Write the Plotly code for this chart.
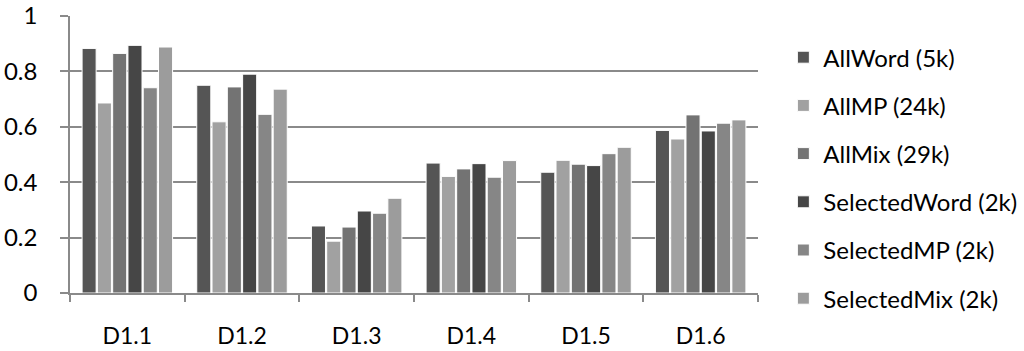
import plotly.graph_objects as go

# Categories and per-series scores
categories = ["D1.1", "D1.2", "D1.3", "D1.4", "D1.5", "D1.6"]
series_names = ["AllWord (5k)", "AllMP (24k)", "AllMix (29k)",
                "SelectedWord (2k)", "SelectedMP (2k)", "SelectedMix (2k)"]
all_word = [0.883, 0.750, 0.242, 0.469, 0.436, 0.587]
all_mp = [0.686, 0.618, 0.187, 0.421, 0.479, 0.556]
all_mix = [0.865, 0.744, 0.238, 0.448, 0.465, 0.643]
selected_word = [0.894, 0.790, 0.296, 0.467, 0.460, 0.585]
selected_mp = [0.741, 0.645, 0.288, 0.418, 0.503, 0.613]
selected_mix = [0.888, 0.736, 0.342, 0.478, 0.526, 0.625]
y_ticks = [0, 0.2, 0.4, 0.6, 0.8, 1]
y_tick_text = ["0", "0.2", "0.4", "0.6", "0.8", "1"]

series_values = [all_word, all_mp, all_mix, selected_word, selected_mp, selected_mix]
colors = ["#555555", "#a1a1a1", "#737373", "#464646", "#868686", "#9c9c9c"]

FONT = "Lato"
GRID = "#8a8a8a"

fig = go.Figure()
for i, (name, vals, col) in enumerate(zip(series_names, series_values, colors)):
    fig.add_trace(go.Bar(
        x=categories, y=vals, name=name, legendgroup=f"g{i}",
        marker=dict(color=col, line=dict(color="white", width=1)),
    ))

fig.update_layout(
    width=1024, height=351,
    margin=dict(l=70, r=266, t=16, b=58),
    paper_bgcolor="white", plot_bgcolor="white",
    barmode="group", bargap=0.2, bargroupgap=0.08,
    font=dict(family=FONT, size=24, color="#000000"),
    showlegend=True,
    legend=dict(
        xref="container", yref="container",
        x=0.765, y=0.90, xanchor="left", yanchor="top",
        traceorder="grouped", tracegroupgap=14, maxheight=1,
        font=dict(family=FONT, size=24, color="#000000"),
        bgcolor="rgba(0,0,0,0)",
    ),
)

fig.update_xaxes(
    automargin=False,
    showline=True, linecolor=GRID, linewidth=1.5,
    ticks="outside", tickson="boundaries", ticklen=7, tickcolor=GRID, tickwidth=1.5,
    ticklabelstandoff=22, tickfont=dict(size=23),
    showgrid=False, zeroline=False,
)
fig.update_yaxes(
    automargin=False,
    range=[0, 1], tickvals=y_ticks, ticktext=y_tick_text,
    showline=True, linecolor=GRID, linewidth=1.5,
    ticks="outside", ticklen=8, tickcolor=GRID, tickwidth=1.5,
    ticklabelstandoff=18,
    showgrid=True, gridcolor=GRID, gridwidth=1.5, zeroline=False,
)

fig.write_html("out.html")
